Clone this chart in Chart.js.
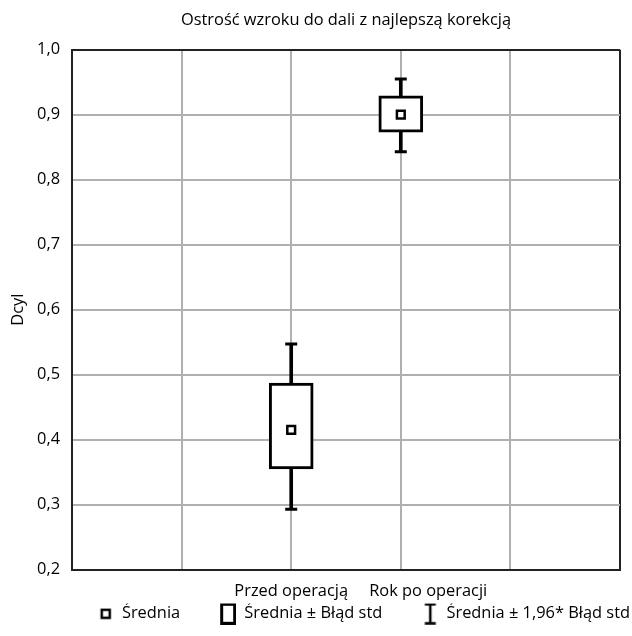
<!DOCTYPE html>
<html>
<head>
<meta charset="utf-8">
<script src="https://cdn.jsdelivr.net/npm/chart.js@4.4.1/dist/chart.umd.min.js"></script>
<style>
  html, body { margin: 0; padding: 0; background: #fff; }
  #wrap { width: 632px; height: 636px; }
</style>
</head>
<body>
<div id="wrap"><canvas id="chart"></canvas></div>
<script>
/* --------------- Data --------------------- */
const categories = ["Przed operacją", "Rok po operacji"];
const means = [0.415, 0.900];
const seLow = [0.355, 0.873];
const seHigh = [0.487, 0.929];
const ciLow = [0.293, 0.843];
const ciHigh = [0.547, 0.955];
const yTicks = [0.2, 0.3, 0.4, 0.5, 0.6, 0.7, 0.8, 0.9, 1.0];
const legendLabels = ["Średnia", "Średnia ± Błąd std", "Średnia ± 1,96* Błąd std"];
const chartTitle = "Ostrość wzroku do dali z najlepszą korekcją";
const yTitle = "Dcyl";

/* --------------- Layout helpers --------------------- */
const boxAt = [2, 3];          // x slot of each box
const labelAt = [2, 3.25];     // x slot of each category label
const xGrid = [0, 1, 2, 3, 4, 5];
const FONT = { family: "'Open Sans', sans-serif", size: 16.4 };
const ICON_W = 54;             // legend icon slot, glyph sits at its right end

function makeIcon(h, draw) {
  const c = document.createElement("canvas");
  c.width = ICON_W;
  c.height = h;
  const g = c.getContext("2d");
  g.strokeStyle = "#000";
  g.fillStyle = "#fff";
  g.translate(ICON_W - 8, h / 2);
  draw(g);
  return c;
}
const meanIcon = makeIcon(12, g => { g.lineWidth = 2.5; g.strokeRect(-4, -4, 8, 8); });
const boxIcon = makeIcon(22, g => { g.lineWidth = 3; g.strokeRect(-6.5, -9.5, 13, 19); });
const ciIcon = makeIcon(22, g => {
  g.lineWidth = 2.5;
  g.beginPath();
  g.moveTo(-5.5, -9.5); g.lineTo(5.5, -9.5);
  g.moveTo(0, -9.5); g.lineTo(0, 9.5);
  g.moveTo(-5.5, 9.5); g.lineTo(5.5, 9.5);
  g.stroke();
});
const legendIcons = [meanIcon, boxIcon, ciIcon];

const capPoints = [];
boxAt.forEach((x, i) => {
  capPoints.push({ x, y: ciLow[i] });
  capPoints.push({ x, y: ciHigh[i] });
});
const xTickValues = Array.from(new Set(xGrid.concat(labelAt))).sort((a, b) => a - b);

/* --------------- Chart --------------------- */
new Chart(document.getElementById("chart"), {
  data: {
    datasets: [
      {
        type: "scatter",
        label: legendLabels[0],
        data: boxAt.map((x, i) => ({ x, y: means[i] })),
        pointStyle: "rect",
        radius: 5.5,
        borderWidth: 2.5,
        borderColor: "#000",
        backgroundColor: "#fff",
        order: 0,
      },
      {
        type: "scatter",
        label: "caps",
        data: capPoints,
        pointStyle: "line",
        radius: 6,
        borderWidth: 3,
        borderColor: "#000",
        order: 1,
      },
      {
        type: "bar",
        label: legendLabels[1],
        data: boxAt.map((x, i) => ({ x, y: [seLow[i], seHigh[i]] })),
        barThickness: 44,
        backgroundColor: "#fff",
        borderColor: "#000",
        borderWidth: 3,
        borderSkipped: false,
        grouped: false,
        order: 2,
      },
      {
        type: "bar",
        label: legendLabels[2],
        data: boxAt.map((x, i) => ({ x, y: [ciLow[i], ciHigh[i]] })),
        barThickness: 3,
        backgroundColor: "#000",
        borderWidth: 0,
        grouped: false,
        order: 3,
      },
    ],
  },
  options: {
    responsive: true,
    maintainAspectRatio: false,
    animation: false,
    events: [],
    layout: { padding: { left: 0, right: 0, top: 0, bottom: 4 } },
    plugins: {
      tooltip: { enabled: false },
      legend: {
        position: "bottom",
        align: "end",
        labels: {
          usePointStyle: true,
          pointStyleWidth: ICON_W,
          padding: 2,
          color: "#000",
          font: FONT,
          generateLabels: () => legendLabels.map((text, i) => ({
            text,
            pointStyle: legendIcons[i],
            fillStyle: "#fff",
            strokeStyle: "#000",
            lineWidth: 0,
            fontColor: "#000",
            hidden: false,
            datasetIndex: i,
          })),
        },
        onClick: null,
      },
    },
    scales: {
      x: {
        type: "linear",
        position: "bottom",
        min: 0,
        max: 5,
        offset: false,
        afterBuildTicks: s => {
          s.ticks = xTickValues.map(v => ({ value: v }));
        },
        afterFit: s => { s.height = 34; },
        ticks: {
          autoSkip: false,
          maxRotation: 0,
          padding: 12,
          color: "#000",
          font: FONT,
          callback: v => {
            const i = labelAt.indexOf(v);
            return i >= 0 ? categories[i] : "";
          },
        },
        grid: {
          offset: false,
          drawTicks: false,
          lineWidth: 2,
          color: ctx => {
            const v = ctx.tick && ctx.tick.value;
            if (v === 0 || v === 5) return "#222";
            if (xGrid.indexOf(v) < 0) return "rgba(0,0,0,0)";
            return "#b0b0b0";
          },
        },
        border: { color: "#222", width: 2 },
      },
      xTop: {
        type: "linear",
        position: "top",
        grid: { display: false, drawTicks: false },
        ticks: { display: false },
        border: { display: false },
        title: {
          display: true,
          text: chartTitle,
          color: "#000",
          font: FONT,
          padding: { top: 10, bottom: 20 },
        },
      },
      y: {
        type: "linear",
        position: "left",
        min: 0.2,
        max: 1.0,
        afterBuildTicks: s => { s.ticks = yTicks.map(v => ({ value: v })); },
        afterFit: s => { s.width = 72; },
        ticks: {
          padding: 12,
          color: "#000",
          font: FONT,
          callback: v => v.toFixed(1).replace(".", ","),
        },
        grid: {
          drawTicks: false,
          lineWidth: 2,
          color: ctx => (ctx.tick && ctx.tick.value === 1.0) ? "#222" : "#b0b0b0",
        },
        border: { color: "#222", width: 2 },
        title: {
          display: true,
          text: yTitle,
          color: "#000",
          font: FONT,
          padding: { top: 8, bottom: 0 },
        },
      },
      yRight: {
        type: "linear",
        position: "right",
        grid: { display: false, drawTicks: false },
        ticks: { display: false },
        border: { display: false },
        afterFit: s => { s.width = 11; },
      },
    },
  },
});
</script>
</body>
</html>
